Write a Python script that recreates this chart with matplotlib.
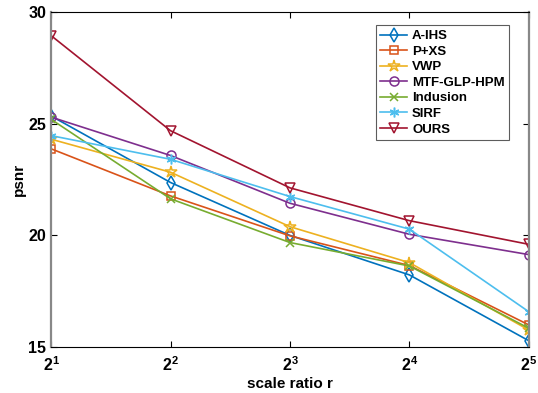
import matplotlib.pyplot as plt

# scale ratios and psnr values
scales = [2, 4, 8, 16, 32]
tick_labels = [r'$\mathbf{2^{1}}$', r'$\mathbf{2^{2}}$', r'$\mathbf{2^{3}}$',
               r'$\mathbf{2^{4}}$', r'$\mathbf{2^{5}}$']

a_ihs = [25.35, 22.37, 20.0, 18.23, 15.28]
pxs = [23.88, 21.77, 19.98, 18.65, 15.99]
vwp = [24.31, 22.83, 20.39, 18.78, 15.76]
mtf_glp_hpm = [25.3, 23.58, 21.44, 20.05, 19.14]
indusion = [25.2, 21.64, 19.68, 18.63, 15.84]
sirf = [24.47, 23.41, 21.74, 20.28, 16.58]
ours = [28.95, 24.69, 22.13, 20.66, 19.6]

asterisk = (6, 2, 0)
series = [
    ('A-IHS', a_ihs, '#0072BD', 'd', 7),
    ('P+XS', pxs, '#D95319', 's', 6),
    ('VWP', vwp, '#EDB120', '*', 9),
    ('MTF-GLP-HPM', mtf_glp_hpm, '#7E2F8E', 'o', 6.5),
    ('Indusion', indusion, '#77AC30', 'x', 5.5),
    ('SIRF', sirf, '#4DBEEE', asterisk, 7),
    ('OURS', ours, '#A2142F', 'v', 7),
]

plt.rcParams['font.family'] = ['Liberation Sans', 'DejaVu Sans']
plt.rcParams['mathtext.fontset'] = 'custom'
plt.rcParams['mathtext.bf'] = 'Liberation Sans:bold'

fig = plt.figure(figsize=(5.38, 3.93), dpi=100)
ax = fig.add_axes([0.095, 0.117, 0.888, 0.852])

for name, vals, col, mk, ms in series:
    ax.plot(scales, vals, color=col, marker=mk, markersize=ms,
            markerfacecolor='none', markeredgecolor=col,
            markeredgewidth=1.1, linewidth=1.2, label=name)

ax.set_xscale('log', base=2)
ax.set_xlim(2, 32)
ax.set_ylim(15, 30)
ax.set_xticks(scales)
ax.set_xticklabels(tick_labels)
ax.minorticks_off()
ax.set_yticks([15, 20, 25, 30])
ax.tick_params(direction='in', top=True, right=True, labelsize=11.5, length=4)
for lab in ax.get_yticklabels():
    lab.set_fontweight('bold')
ax.tick_params(axis='x', pad=6)

for s in ['left', 'right']:
    ax.spines[s].set_color('#888888')
    ax.spines[s].set_linewidth(1.6)

ax.set_xlabel('scale ratio r', fontsize=11, fontweight='bold', labelpad=2)
ax.set_ylabel('psnr', fontsize=11, fontweight='bold', labelpad=2)

leg = ax.legend(loc='upper right', bbox_to_anchor=(0.973, 0.98),
                prop={'weight': 'bold', 'size': 9.5}, fancybox=False,
                edgecolor='#333333', handlelength=2.0, labelspacing=0.25,
                borderpad=0.35, handletextpad=0.4)
leg.get_frame().set_linewidth(0.8)

plt.savefig('out.png', dpi=100)
